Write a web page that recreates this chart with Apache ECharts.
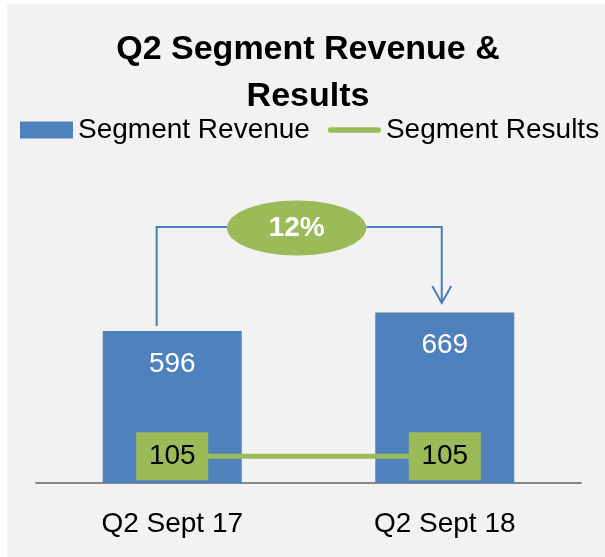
<!DOCTYPE html>
<html><head><meta charset="utf-8">
<style>html,body{margin:0;padding:0;background:#fff}#c{width:605px;height:557px}</style>
<script src="https://cdn.jsdelivr.net/npm/echarts@6/dist/echarts.min.js"></script>
</head><body><div id="c"></div>
<script>
const categories = ['Q2 Sept 17', 'Q2 Sept 18'];
const revenue = [596, 669];
const results = [105, 105];
const seriesNames = ['Segment Revenue', 'Segment Results'];
const titleText = 'Q2 Segment Revenue &\nResults';

const FONT = 'Liberation Sans';
const chart = echarts.init(document.getElementById('c'), null, {renderer: 'canvas'});
const growth = Math.round((revenue[1] / revenue[0] - 1) * 100) + '%';

chart.setOption({
  backgroundColor: '#ffffff',
  animation: false,
  title: {
    text: titleText, left: 308, top: 26, textAlign: 'center', padding: 0,
    textStyle: {fontFamily: FONT, fontSize: 34, fontWeight: 'bold', color: '#000', lineHeight: 47}
  },
  legend: {
    left: 20, top: 116, padding: 0, itemWidth: 53, itemHeight: 17, itemGap: 18,
    textStyle: {fontFamily: FONT, fontSize: 28, color: '#000', lineHeight: 28},
    data: [
      {name: seriesNames[0], icon: 'rect'},
      {name: seriesNames[1], icon: 'path://M3,0 L53,0 A3,3 0 0 1 53,6 L3,6 A3,3 0 0 1 3,0 Z'}
    ]
  },
  grid: {left: 36, right: 24, top: 279, bottom: 74},
  xAxis: {
    type: 'category', data: categories,
    axisLine: {lineStyle: {color: '#868686', width: 2}},
    axisTick: {show: false},
    axisLabel: {fontFamily: FONT, fontSize: 28, color: '#000', margin: 27, lineHeight: 28}
  },
  yAxis: {type: 'value', min: 0, max: 800, show: false},
  series: [
    {
      name: seriesNames[0], type: 'bar', data: revenue, barWidth: '51%',
      itemStyle: {color: '#4f81bd'},
      label: {show: true, position: 'insideTop', distance: 19, color: '#fff', fontFamily: FONT, fontSize: 28, lineHeight: 28}
    },
    {
      name: seriesNames[1], type: 'line', data: results, symbol: 'rect', symbolSize: [72, 48],
      itemStyle: {color: '#9bbb59'}, lineStyle: {color: '#9bbb59', width: 5}, z: 3,
      label: {show: true, position: 'inside', color: '#000', fontFamily: FONT, fontSize: 28}
    }
  ]
});

// growth annotation (bracket arrow + ellipse), positioned from the axes
const px = (i, v) => chart.convertToPixel({xAxisIndex: 0, yAxisIndex: 0}, [i, v]);
const x1 = px(0, 0)[0] - 15.6;
const x2 = px(1, 0)[0] - 3;
const yH = px(0, 1004)[1];
const yL = px(0, revenue[0] + 20)[1];
const yTip = px(1, revenue[1] + 37)[1];
const ecx = x1 + 140, rx = 69.7, ry = 27.5;
const blue = '#4a7ebb';
chart.setOption({
  graphic: [
    {type: 'rect', z: -100, silent: true, shape: {x: 7, y: 4, width: 598, height: 553}, style: {fill: '#f2f2f2'}},
    {type: 'polyline', z: 10, shape: {points: [[x1, yL], [x1, yH], [ecx - rx, yH]]}, style: {stroke: blue, lineWidth: 2, fill: null}},
    {type: 'polyline', z: 10, shape: {points: [[ecx + rx, yH], [x2, yH], [x2, yTip]]}, style: {stroke: blue, lineWidth: 2, fill: null}},
    {type: 'polyline', z: 10, shape: {points: [[x2 - 9.5, yTip - 17], [x2, yTip], [x2 + 9.5, yTip - 17]]}, style: {stroke: blue, lineWidth: 2, fill: null}},
    {type: 'ellipse', z: 11, shape: {cx: ecx, cy: yH + 1, rx: rx, ry: ry}, style: {fill: '#9bbb59'}},
    {type: 'text', z: 12, x: ecx, y: yH + 1, style: {text: growth, fill: '#fff', font: 'bold 28px "Liberation Sans"', align: 'center', verticalAlign: 'middle'}}
  ]
});
</script></body></html>
